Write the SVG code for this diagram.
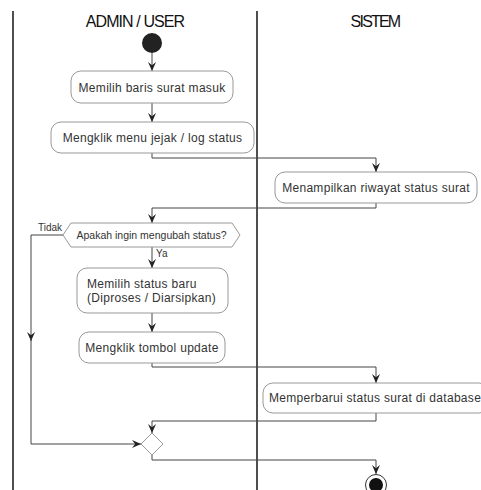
<svg xmlns="http://www.w3.org/2000/svg" width="481" height="490" viewBox="0 0 481 490">
<style>
.lane{stroke:#222;stroke-width:1.6;fill:none}
.title{font-family:"Liberation Sans",Arial,sans-serif;font-size:16px;fill:#111;letter-spacing:-0.9px;text-anchor:middle}
.box{fill:#fff;stroke:#999;stroke-width:1}
.t{font-family:"Liberation Sans",Arial,sans-serif;font-size:12px;fill:#333;text-anchor:middle;letter-spacing:0.3px}
.tl{font-family:"Liberation Sans",Arial,sans-serif;font-size:12px;fill:#333;letter-spacing:0.3px}
.lbl{font-family:"Liberation Sans",Arial,sans-serif;font-size:10px;fill:#333}
.c{fill:none;stroke:#444;stroke-width:1;marker-end:url(#ah)}
</style>
<defs>
<marker id="ah" viewBox="0 0 10 10" refX="10" refY="5" markerWidth="9" markerHeight="9" markerUnits="userSpaceOnUse" orient="auto">
<path d="M0,0.5 L10,5 L0,9.5 L3.5,5 Z" fill="#222"/>
</marker>
</defs>
<rect width="481" height="490" fill="#fff"/>
<g id="lanes">
<line class="lane" x1="13" y1="11" x2="13" y2="490"/>
<line class="lane" x1="257" y1="11" x2="257" y2="490"/>
<text class="title" x="135" y="27">ADMIN / USER</text>
<text class="title" x="375" y="27" style="letter-spacing:-1.8px">SISTEM</text>
</g>
<g id="connectors">
<path class="c" d="M152,53 L152,71"/>
<path class="c" d="M152,103 L152,122"/>
<path class="c" d="M152,153 L152,158 L376,158 L376,172"/>
<path class="c" d="M376,203 L376,208 L152,208 L152,223"/>
<path class="c" d="M152,247 L152,268"/>
<text class="lbl" x="156" y="257">Ya</text>
<path class="c" d="M63,235 L31,235 L31,341"/>
<path class="c" d="M31,338 L31,444 L141,444"/>
<text class="lbl" x="38" y="231">Tidak</text>
<path class="c" d="M152,313 L152,332"/>
<path class="c" d="M152,363 L152,367 L376,367 L376,383"/>
<path class="c" d="M376,413 L376,421 L152,421 L152,433"/>
<path class="c" d="M152,455 L152,460 L376,460 L376,474"/>
</g>
<g id="start"><circle cx="152" cy="43" r="10" fill="#222"/></g>
<g id="n1"><rect class="box" x="71" y="71" width="162" height="32" rx="10"/><text class="t" x="152" y="91.5">Memilih baris surat masuk</text></g>
<g id="n2"><rect class="box" x="51" y="122" width="203" height="31" rx="10"/><text class="t" x="152.5" y="142">Mengklik menu jejak / log status</text></g>
<g id="n3"><rect class="box" x="275" y="172" width="202" height="31" rx="10"/><text class="t" x="376" y="192">Menampilkan riwayat status surat</text></g>
<g id="d1"><path class="box" d="M63,235 L71,223 L232,223 L240,235 L232,247 L71,247 Z"/><text class="lbl" x="151.5" y="239" text-anchor="middle" style="font-size:10.5px">Apakah ingin mengubah status?</text></g>
<g id="n4"><rect class="box" x="77" y="268" width="151" height="45" rx="10"/><text class="tl" x="87" y="288">Memilih status baru</text><text class="tl" x="87" y="302">(Diproses / Diarsipkan)</text></g>
<g id="n5"><rect class="box" x="79" y="332" width="146" height="31" rx="10"/><text class="t" x="152" y="352">Mengklik tombol update</text></g>
<g id="n6"><rect class="box" x="263" y="383" width="226" height="30" rx="10"/><text class="t" x="375" y="402">Memperbarui status surat di database</text></g>
<g id="merge"><path class="box" d="M152,433 L163,444 L152,455 L141,444 Z"/></g>
<g id="end"><circle cx="376" cy="485" r="10.5" fill="#fff" stroke="#333" stroke-width="1"/><circle cx="376" cy="485" r="7" fill="#111"/></g>
</svg>
